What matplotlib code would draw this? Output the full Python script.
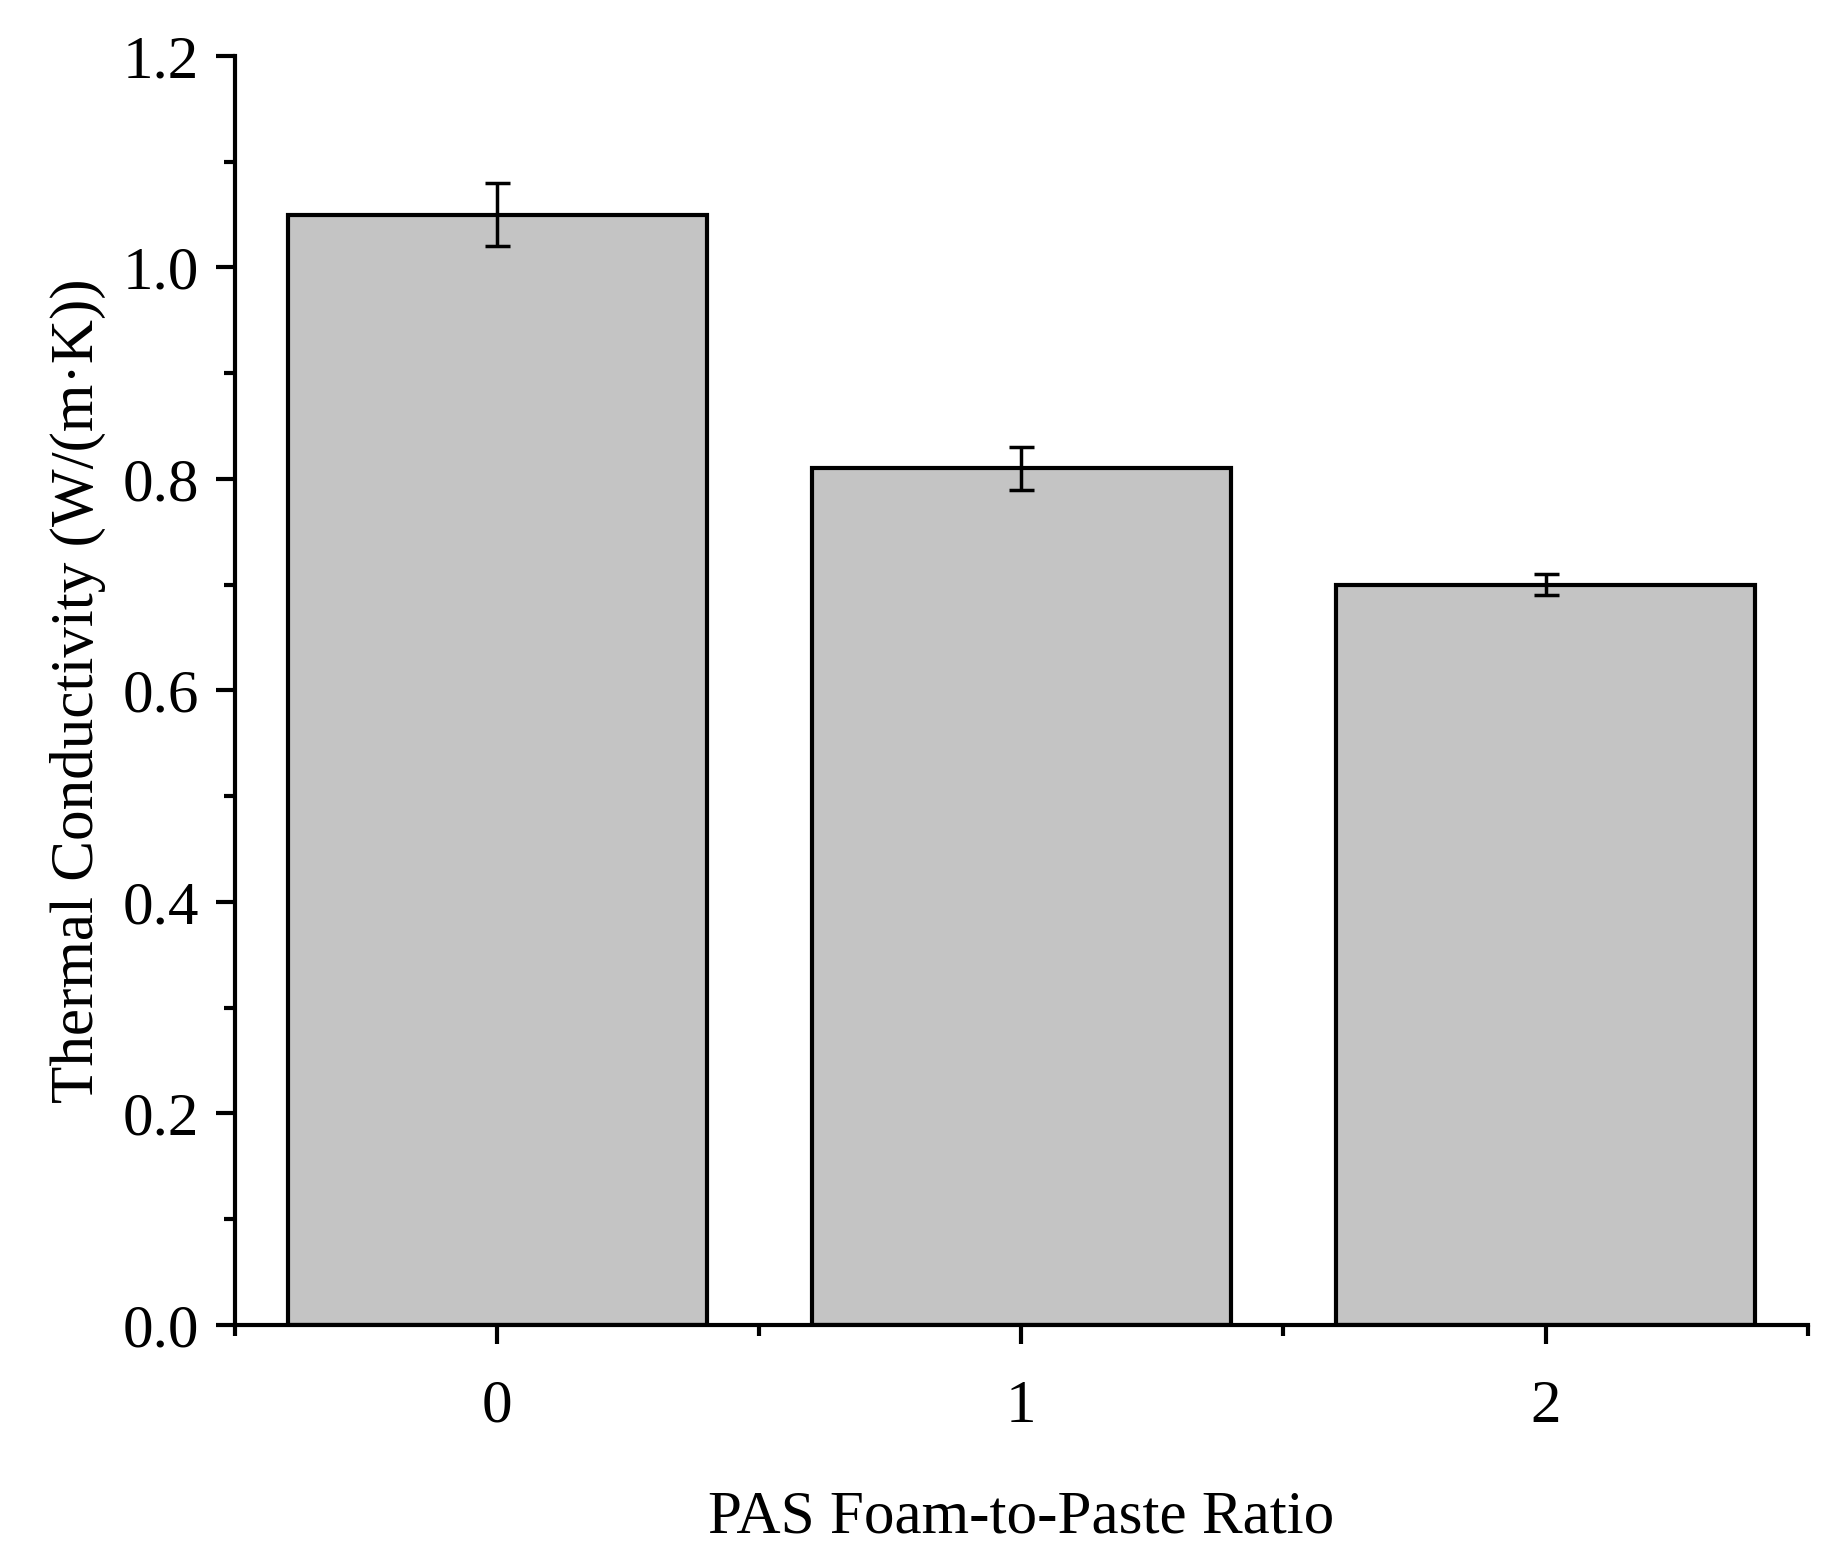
import matplotlib
matplotlib.use("Agg")
import matplotlib.pyplot as plt
from matplotlib.ticker import MultipleLocator

categories = ["0", "1", "2"]
values = [1.05, 0.81, 0.70]
errors = [0.03, 0.02, 0.01]

plt.rcParams['font.family'] = ['Liberation Serif', 'DejaVu Serif']
fig = plt.figure(figsize=(18.37, 15.55), dpi=100)
ax = fig.add_axes([0.128, 0.148, 0.856, 0.816])
x = list(range(len(categories)))
ax.bar(x, values, width=0.8, color='#c4c4c4', edgecolor='black', linewidth=3,
       yerr=errors, capsize=9, error_kw=dict(elinewidth=2.5, capthick=2.5, ecolor='black'))
ax.set_xlim(-0.5, 2.5)
ax.set_ylim(0, 1.2)
ax.set_xticks(x)
ax.set_xticklabels(categories)
ax.xaxis.set_minor_locator(MultipleLocator(0.5))
ax.yaxis.set_major_locator(MultipleLocator(0.2))
ax.yaxis.set_minor_locator(MultipleLocator(0.1))
ax.yaxis.set_major_formatter(matplotlib.ticker.FormatStrFormatter('%.1f'))
for s in ['top', 'right']:
    ax.spines[s].set_visible(False)
for s in ['left', 'bottom']:
    ax.spines[s].set_linewidth(3)
ax.tick_params(which='major', length=14, width=3, labelsize=44, pad=12)
ax.tick_params(which='minor', length=8, width=3)
ax.tick_params(axis='x', pad=25)
ax.set_xlabel("PAS Foam-to-Paste Ratio", fontsize=44, labelpad=40)
ax.set_ylabel("Thermal Conductivity (W/(m·K))", fontsize=44, labelpad=12)
fig.savefig("out.png", dpi=100)
